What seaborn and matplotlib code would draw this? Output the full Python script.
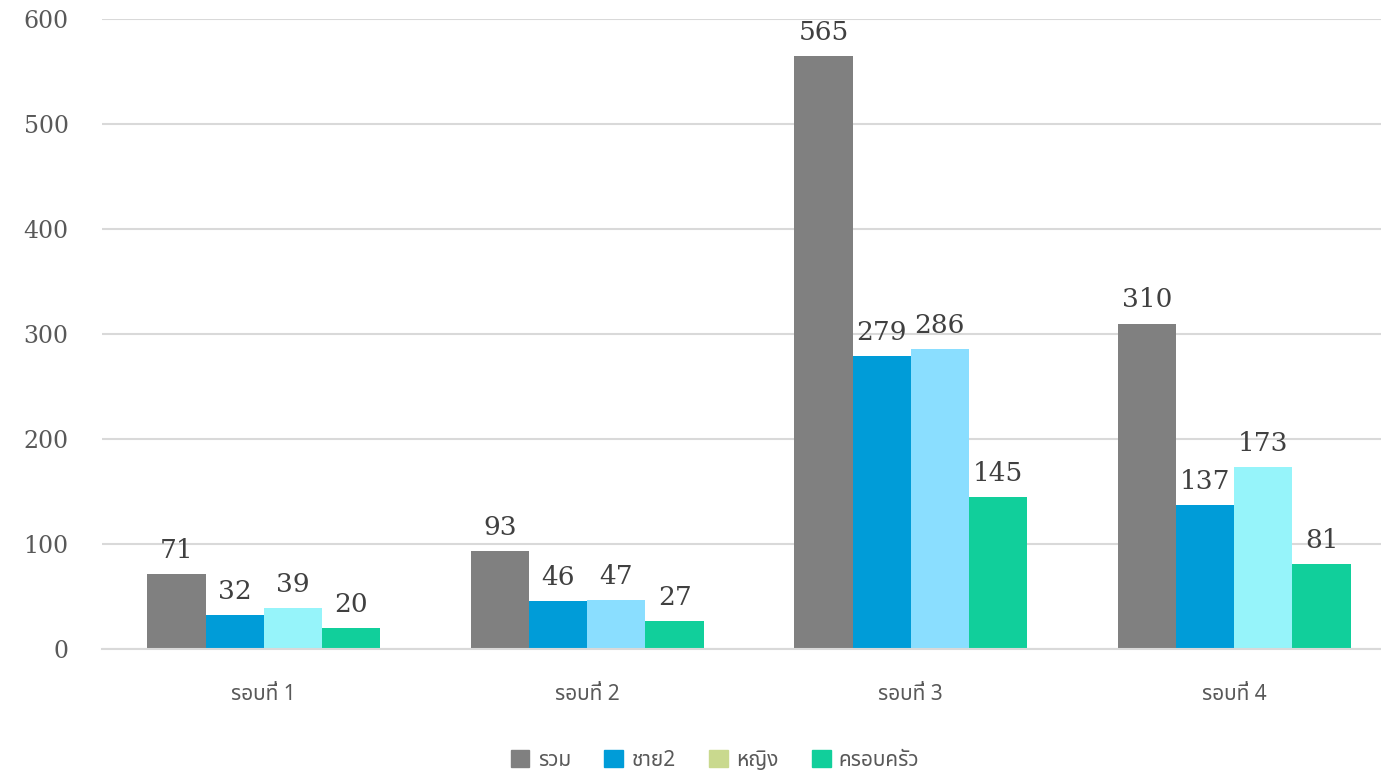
import matplotlib
matplotlib.use('Agg')
import matplotlib.pyplot as plt
from matplotlib.patches import Patch
from matplotlib import font_manager
import seaborn as sns
import pandas as pd

rounds = ['รอบที่ 1', 'รอบที่ 2', 'รอบที่ 3', 'รอบที่ 4']
series = ['รวม', 'ชาย2', 'หญิง', 'ครอบครัว']
total = [71, 93, 565, 310]
male = [32, 46, 279, 137]
female = [39, 47, 286, 173]
family = [20, 27, 145, 81]

colors = ['#808080', '#009CD8', '#8ADEFF', '#11CF9B']
female_colors = ['#96F4FA', '#8ADEFF', '#8ADEFF', '#96F4FA']
legend_colors = ['#808080', '#009CD8', '#C9D98E', '#11CF9B']

rows = []
for name, vals in zip(series, [total, male, female, family]):
    for r, v in zip(rounds, vals):
        rows.append({'round': r, 'series': name, 'value': v})
df = pd.DataFrame(rows)

sns.set_style('white')
names = {f.name for f in font_manager.fontManager.ttflist}
thai = [f for f in ['Noto Sans Thai', 'Noto Sans Thai UI', 'Loma', 'Garuda', 'Norasi', 'Tlwg Typo'] if f in names]
plt.rcParams['font.family'] = thai + ['DejaVu Sans']

fig = plt.figure(figsize=(13.81, 7.72), dpi=100)
ax = fig.add_axes([102/1381, 1-649/772, 1-102/1381, (649-19)/772])
sns.barplot(data=df, x='round', y='value', hue='series', palette=colors,
            width=0.72, saturation=1, linewidth=0, ax=ax, legend=False)

# third series has per-round colours in the original chart
for i, p in enumerate(ax.containers[2]):
    p.set_facecolor(female_colors[i])

for c in ax.containers:
    ax.bar_label(c, padding=8, fontsize=19, color='#404040', family='DejaVu Serif')

ax.set_ylim(0, 600)
ax.set_xlim(-0.5, -0.5 + 1279/323.5)
ax.set_yticks(range(0, 601, 100))
ax.yaxis.grid(True, color='#D9D9D9', linewidth=1.5)
ax.set_axisbelow(True)
for s in ['top', 'right', 'left']:
    ax.spines[s].set_visible(False)
ax.spines['bottom'].set_color('#D9D9D9')
ax.spines['bottom'].set_linewidth(1.5)
ax.tick_params(axis='both', length=0)
ax.tick_params(axis='y', pad=24)
ax.tick_params(axis='x', pad=25)
for t in ax.get_yticklabels():
    t.set_family('DejaVu Serif')
    t.set_fontsize(17)
    t.set_color('#595959')
for t in ax.get_xticklabels():
    t.set_fontsize(15)
    t.set_color('#595959')
ax.set_xlabel('')
ax.set_ylabel('')

handles = [Patch(color=c, label=n) for c, n in zip(legend_colors, series)]
fig.legend(handles=handles, loc='center', bbox_to_anchor=(715/1381, 1-760/772),
           ncol=4, frameon=False, fontsize=15, handlelength=0.9, handleheight=0.9,
           handletextpad=0.4, columnspacing=1.6, labelcolor='#595959')

fig.savefig('out.png', dpi=100)
